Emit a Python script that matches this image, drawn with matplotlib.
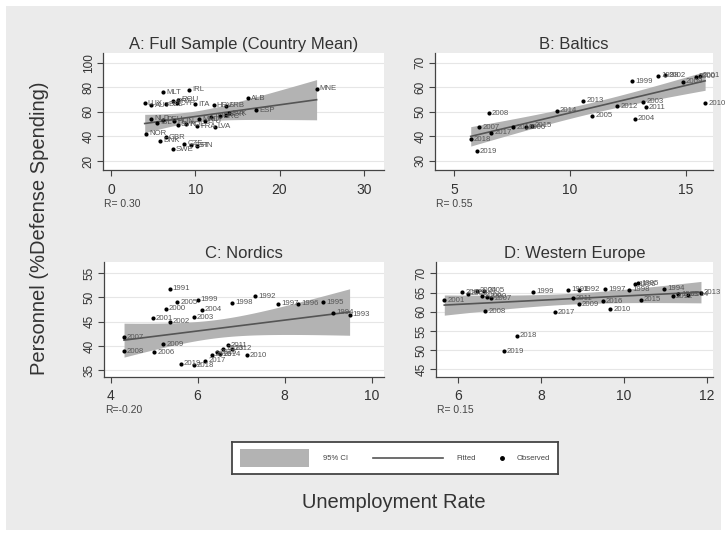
import numpy as np
import matplotlib.pyplot as plt
from matplotlib.patches import Rectangle
from matplotlib.lines import Line2D

plt.rcParams['font.family'] = ['Liberation Sans', 'DejaVu Sans']

# Panel A: country means
a_lab = ['MNE', 'ALB', 'ESP', 'IRL', 'MLT', 'ITA', 'LUX', 'AUT', 'BEL', 'PRT',
         'ROU', 'CYP', 'HRV', 'SRB', 'SVK', 'LVA', 'NOR', 'GBR', 'DNK', 'CZE',
         'EST', 'FIN', 'SWE', 'NLD', 'DEU', 'HUN', 'SVN', 'POL', 'FRA', 'LTU',
         'TUR', 'GRC', 'BGR', 'MKD', 'ISL']
a_x = [24.4, 16.3, 17.2, 9.3, 6.2, 10.0, 4.0, 4.8, 6.5, 7.4,
       8.0, 7.8, 12.2, 13.6, 14.0, 12.3, 4.15, 6.5, 5.8, 8.7,
       9.5, 10.2, 7.3, 4.8, 6.2, 7.5, 7.9, 8.9, 10.2, 11.1,
       11.9, 12.9, 13.6, 10.5, 5.5]
a_y = [79, 71, 61.5, 78, 76, 66, 67, 65.5, 66, 68.5,
       70, 67, 65.5, 64.8, 58.9, 48, 42, 39.5, 36.6, 34,
       33, 32.3, 29.6, 54.3, 53.6, 52.2, 49.4, 50, 48.5, 52.5,
       56, 56.5, 57.6, 54, 51]

# Panel B: Baltics, yearly
b_lab = ['1999', '2000', '2001', '2002', '2003', '2004', '2005', '2006', '2007',
         '2008', '2009', '2010', '2011', '2012', '2013', '2014', '2015', '2016',
         '2017', '2018', '2019', '1998']
b_x = [12.67, 15.42, 15.6, 14.1, 13.16, 12.8, 10.95, 8.09, 6.09,
       6.5, 14.86, 15.82, 13.26, 12.04, 10.57, 9.43, 8.35, 7.56,
       6.6, 5.72, 5.98, 13.8]
b_y = [62.5, 64.2, 64.7, 65.0, 54.0, 47.1, 48.4, 43.6, 43.6,
       49.4, 62.2, 53.5, 51.8, 52.3, 54.4, 50.5, 44.2, 43.6,
       41.4, 38.7, 33.8, 64.7]

# Panel C: Nordics, yearly
c_lab = ['1991', '1992', '1993', '1994', '1995', '1996', '1997', '1998', '1999',
         '2000', '2001', '2002', '2003', '2004', '2005', '2006', '2007', '2008',
         '2009', '2010', '2011', '2012', '2013', '2014', '2015', '2016', '2017',
         '2018', '2019']
c_x = [5.36, 7.32, 9.49, 9.12, 8.89, 8.31, 7.85, 6.8, 6.0,
       5.27, 4.97, 5.36, 5.91, 6.1, 5.53, 5.0, 4.31, 4.31,
       5.21, 7.13, 6.69, 6.78, 6.59, 6.52, 6.44, 6.32, 6.18,
       5.91, 5.61]
c_y = [51.8, 50.2, 46.4, 46.8, 49.0, 48.7, 48.7, 48.9, 49.5,
       47.7, 45.7, 45.0, 45.9, 47.5, 49.0, 38.7, 41.8, 38.9,
       40.4, 38.1, 40.1, 39.4, 39.4, 38.3, 38.7, 38.2, 37.0,
       36.0, 36.3]

# Panel D: Western Europe, yearly
d_lab = ['1991', '1992', '1993', '1994', '1995', '1996', '1997', '1998', '1999',
         '2000', '2001', '2002', '2003', '2004', '2005', '2006', '2007', '2008',
         '2009', '2010', '2011', '2012', '2013', '2014', '2015', '2016', '2017',
         '2018', '2019']
d_x = [8.65, 8.93, 11.31, 10.97, 10.35, 10.27, 9.55, 10.13, 7.81,
       6.7, 5.67, 6.1, 6.23, 6.46, 6.63, 6.58, 6.8, 6.66,
       8.92, 9.67, 8.77, 11.18, 11.86, 11.55, 10.41, 9.49, 8.33,
       7.42, 7.1]
d_y = [65.7, 65.7, 64.6, 66.0, 67.4, 67.2, 65.9, 65.7, 65.3,
       64.0, 63.0, 65.1, 64.7, 65.5, 65.5, 64.2, 63.5, 60.1,
       62.0, 60.7, 63.5, 64.1, 65.0, 64.4, 63.1, 62.8, 59.9,
       53.7, 49.7]

panels = [
    ('A: Full Sample (Country Mean)', a_x, a_y, a_lab, 'R= 0.30',
     [0, 10, 20, 30], [20, 40, 60, 80, 100], (-0.95, 32.4), (12.7, 107.9)),
    ('B: Baltics', b_x, b_y, b_lab, 'R= 0.55',
     [5, 10, 15], [30, 40, 50, 60, 70], (4.18, 16.16), (26.2, 74)),
    ('C: Nordics', c_x, c_y, c_lab, 'R=-0.20',
     [4, 6, 8, 10], [35, 40, 45, 50, 55], (3.85, 10.28), (33.6, 57.3)),
    ('D: Western Europe', d_x, d_y, d_lab, 'R= 0.15',
     [6, 8, 10, 12], [45, 50, 55, 60, 65, 70], (5.47, 12.15), (43, 73)),
]

W, H = 727, 536
boxes = [(103, 53, 384, 170), (435, 53, 713, 170),
         (104, 262, 384, 377), (436, 262, 713, 377)]

band_col = '#b3b3b3'
line_col = '#555555'
axis_col = '#444444'


def lfitci(x, y):
    # OLS fit with 95% confidence band of the mean prediction
    x = np.asarray(x, float)
    y = np.asarray(y, float)
    n = len(x)
    b, a = np.polyfit(x, y, 1)
    resid = y - (a + b * x)
    s = np.sqrt(np.sum(resid**2) / (n - 2))
    sxx = np.sum((x - x.mean())**2)
    t = 1.96 + 2.4 / (n - 2)
    xs = np.linspace(x.min(), x.max(), 100)
    yh = a + b * xs
    se = s * np.sqrt(1.0 / n + (xs - x.mean())**2 / sxx)
    return xs, yh, yh - t * se, yh + t * se


fig = plt.figure(figsize=(W / 100, H / 100), dpi=100, facecolor='white')
fig.patches.append(Rectangle((6 / W, 6 / H), (W - 12) / W, (H - 12) / H,
                             transform=fig.transFigure, facecolor='#ebebeb',
                             edgecolor='none', zorder=-10))

for (title, x, y, lab, rtxt, xt, yt, xl, yl), (l, t, r, btm) in zip(panels, boxes):
    ax = fig.add_axes([l / W, 1 - btm / H, (r - l) / W, (btm - t) / H])
    ax.set_facecolor('white')
    xs, yh, lo, hi = lfitci(x, y)
    ax.fill_between(xs, lo, hi, color=band_col, lw=0, zorder=2)
    ax.plot(xs, yh, color=line_col, lw=1.2, zorder=3)
    ax.scatter(x, y, s=9, color='black', zorder=4, linewidths=0)
    for xi, yi, li in zip(x, y, lab):
        ax.annotate(li, (xi, yi), xytext=(2.2, 0), textcoords='offset points',
                    fontsize=5.6, color='#555555', va='center', ha='left', zorder=5)
    ax.set_xlim(xl)
    ax.set_ylim(yl)
    ax.set_xticks(xt)
    ax.set_yticks(yt)
    ax.yaxis.grid(True, color='#e6e6e6', lw=0.8, zorder=0)
    ax.set_axisbelow(True)
    for sp in ['top', 'right']:
        ax.spines[sp].set_visible(False)
    for sp in ['left', 'bottom']:
        ax.spines[sp].set_color(axis_col)
        ax.spines[sp].set_linewidth(0.9)
    ax.tick_params(axis='x', length=4, width=0.8, color=axis_col, pad=5,
                   labelsize=10, labelcolor='#333333')
    ax.tick_params(axis='y', length=4, width=0.8, color=axis_col, pad=2,
                   labelsize=8.5, labelcolor='#333333')
    for tl in ax.get_yticklabels():
        tl.set_rotation(90)
        tl.set_va('center')
    ax.set_title(title, fontsize=12, color='#333333', pad=3)
    ax.text(0.005, -0.29, rtxt, transform=ax.transAxes, fontsize=7.5,
            color='#444444', va='center', ha='left')

fig.text(40 / W, 1 - 228 / H, 'Personnel (%Defense Spending)', rotation=90,
         fontsize=14.5, color='#333333', ha='center', va='center')
fig.text(394 / W, 1 - 502 / H, 'Unemployment Rate', fontsize=14.5,
         color='#333333', ha='center', va='center')

# legend box
lg = fig.add_axes([232 / W, 1 - 474 / H, 326 / W, 32 / H])
lg.set_xlim(0, 326)
lg.set_ylim(0, 32)
lg.set_xticks([])
lg.set_yticks([])
lg.set_facecolor('white')
for sp in lg.spines.values():
    sp.set_color('#444444')
    sp.set_linewidth(1.3)
lg.add_patch(Rectangle((8, 7), 69, 18, facecolor=band_col, edgecolor='none'))
lg.text(91, 16, '95% CI', fontsize=5.5, color='#444444', va='center')
lg.add_line(Line2D([141, 211], [16, 16], color=line_col, lw=1.2))
lg.text(224, 16, 'Fitted', fontsize=5.5, color='#444444', va='center')
lg.plot([270], [16], 'o', color='black', ms=2.5)
lg.text(285, 16, 'Observed', fontsize=5.5, color='#444444', va='center')

fig.savefig('out.png', dpi=100, facecolor=fig.get_facecolor())
